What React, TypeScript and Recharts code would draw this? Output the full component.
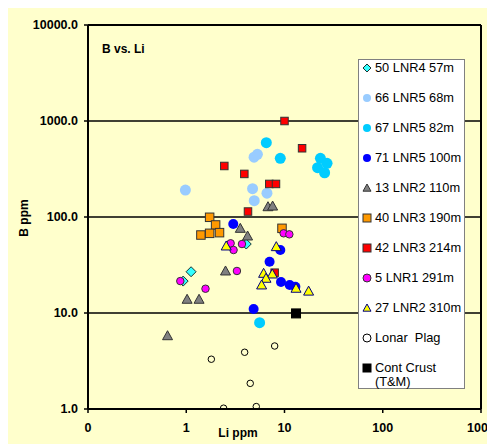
import React from 'react'
import { ScatterChart, Scatter, XAxis, YAxis, CartesianGrid, ReferenceLine, Legend } from 'recharts'

// Li (x) vs B (y), ppm
const lnr4_57m = [ { x: 1.12, y: 26.9 }, { x: 0.93, y: 21.5 }, { x: 4.08, y: 52.3 } ]
const lnr5_68m = [ { x: 0.98, y: 191 }, { x: 4.9, y: 420 }, { x: 5.3, y: 450 }, { x: 4.73, y: 197 }, { x: 4.92, y: 148 }, { x: 6.63, y: 177 } ]
const lnr5_82m = [ { x: 6.53, y: 594 }, { x: 9.06, y: 409 }, { x: 23.2, y: 409 }, { x: 27.1, y: 362 }, { x: 21.7, y: 326 }, { x: 25.6, y: 289 }, { x: 5.58, y: 7.93 } ]
const lnr5_100m = [ { x: 3.01, y: 84.6 }, { x: 9.06, y: 45.3 }, { x: 7.05, y: 34.2 }, { x: 9.21, y: 21.0 }, { x: 11.3, y: 19.6 }, { x: 12.9, y: 18.8 }, { x: 4.85, y: 11.0 } ]
const lnr2_110m = [ { x: 6.79, y: 128 }, { x: 7.57, y: 130 }, { x: 1.02, y: 13.9 }, { x: 1.35, y: 13.9 }, { x: 2.51, y: 27.4 }, { x: 3.55, y: 76.2 }, { x: 4.21, y: 63.4 }, { x: 0.645, y: 5.8 } ]
const lnr3_190m = [ { x: 1.73, y: 99.3 }, { x: 1.99, y: 82.6 }, { x: 1.41, y: 64.9 }, { x: 1.73, y: 67.6 }, { x: 2.18, y: 68.7 }, { x: 9.43, y: 76.2 } ]
const lnr3_214m = [ { x: 2.44, y: 340 }, { x: 10.0, y: 1000 }, { x: 15.1, y: 520 }, { x: 3.9, y: 281 }, { x: 7.0, y: 221 }, { x: 8.19, y: 221 }, { x: 4.25, y: 114 }, { x: 7.94, y: 26.3 } ]
const lnr1_291m = [ { x: 2.83, y: 53.2 }, { x: 3.03, y: 45.3 }, { x: 3.69, y: 52.3 }, { x: 3.28, y: 27.4 }, { x: 0.87, y: 21.5 }, { x: 1.57, y: 17.9 }, { x: 9.8, y: 67.6 }, { x: 11.2, y: 66 } ]
const lnr2_310m = [ { x: 2.55, y: 49.9 }, { x: 8.25, y: 49.1 }, { x: 6.13, y: 25.9 }, { x: 7.51, y: 25.5 }, { x: 6.48, y: 23.0 }, { x: 5.85, y: 19.6 }, { x: 13.1, y: 18.1 }, { x: 17.6, y: 16.9 } ]
const lonarPlag = [ { x: 1.8, y: 3.3 }, { x: 3.93, y: 3.9 }, { x: 7.94, y: 4.53 }, { x: 4.48, y: 1.85 }, { x: 2.4, y: 1.02 }, { x: 5.16, y: 1.06 } ]
const contCrust = [ { x: 13.1, y: 9.9 } ]

const xTicks = [0.1, 1, 10, 100, 1000]
const yTicks = [1, 10, 100, 1000, 10000]

type Kind = 'diamond' | 'circle' | 'triangle' | 'square'

const series: { name: string; data: { x: number; y: number }[]; kind: Kind; fill: string; stroke: string; size: number }[] = [
  { name: '50 LNR4 57m', data: lnr4_57m, kind: 'diamond', fill: '#33FFFF', stroke: '#1a3333', size: 10 },
  { name: '66 LNR5 68m', data: lnr5_68m, kind: 'circle', fill: '#99CCFF', stroke: 'none', size: 11 },
  { name: '67 LNR5 82m', data: lnr5_82m, kind: 'circle', fill: '#00CCFF', stroke: 'none', size: 11 },
  { name: '71 LNR5 100m', data: lnr5_100m, kind: 'circle', fill: '#0000FF', stroke: 'none', size: 10 },
  { name: '13 LNR2 110m', data: lnr2_110m, kind: 'triangle', fill: '#808080', stroke: '#333333', size: 10 },
  { name: '40 LNR3 190m', data: lnr3_190m, kind: 'square', fill: '#FF9900', stroke: '#333333', size: 8.5 },
  { name: '42 LNR3 214m', data: lnr3_214m, kind: 'square', fill: '#FF0000', stroke: '#333333', size: 7.5 },
  { name: '5 LNR1 291m', data: lnr1_291m, kind: 'circle', fill: '#FF00FF', stroke: '#333333', size: 7.5 },
  { name: '27 LNR2 310m', data: lnr2_310m, kind: 'triangle', fill: '#FFFF00', stroke: '#000080', size: 10 },
  { name: 'Lonar  Plag', data: lonarPlag, kind: 'circle', fill: 'none', stroke: '#000000', size: 6.5 },
  { name: 'Cont Crust', data: contCrust, kind: 'square', fill: '#000000', stroke: '#000000', size: 9 },
]

const font = '"Liberation Sans", Arial, sans-serif'

function Marker({ kind, cx, cy, s, fill, stroke }: { kind: Kind; cx: number; cy: number; s: number; fill: string; stroke: string }) {
  const h = s / 2
  const sw = stroke === 'none' ? 0 : 1
  if (kind === 'circle') return <circle cx={cx} cy={cy} r={h} fill={fill} stroke={stroke} strokeWidth={sw} />
  if (kind === 'square') return <rect x={cx - h} y={cy - h} width={s} height={s} fill={fill} stroke={stroke} strokeWidth={sw} />
  if (kind === 'diamond')
    return <polygon points={`${cx},${cy - h} ${cx + h},${cy} ${cx},${cy + h} ${cx - h},${cy}`} fill={fill} stroke={stroke} strokeWidth={sw} />
  return <polygon points={`${cx},${cy - h} ${cx + h},${cy + h * 0.8} ${cx - h},${cy + h * 0.8}`} fill={fill} stroke={stroke} strokeWidth={sw} />
}

function renderLegend() {
  return (
    <div style={{ position: 'relative', width: 107, height: 330, background: '#fff', border: '1px solid #808080', boxSizing: 'border-box', fontFamily: font, fontSize: 12.8, color: '#000' }}>
      {series.map((s, i) => (
        <div key={s.name} style={{ position: 'absolute', left: 0, top: 30 * i, height: 16, lineHeight: '16px', whiteSpace: 'pre' }}>
          <svg width={14} height={16} style={{ position: 'absolute', left: 1, top: 0 }}>
            <Marker kind={s.kind} cx={7} cy={8} s={8} fill={s.fill} stroke={s.stroke} />
          </svg>
          <span style={{ position: 'absolute', left: 16 }}>{s.name}</span>
        </div>
      ))}
      <div style={{ position: 'absolute', left: 16, top: 30 * 10 + 14, lineHeight: '16px' }}>(T&amp;M)</div>
    </div>
  )
}

function YTitle() {
  return (
    <text x={20.3} y={210} transform="rotate(-90, 20.3, 210)" textAnchor="middle" fontFamily={font} fontSize={12} fontWeight="bold" fill="#000">
      B ppm
    </text>
  )
}

function XTitle() {
  return (
    <text x={230} y={429} textAnchor="middle" fontFamily={font} fontSize={12} fontWeight="bold" fill="#000">
      Li ppm
    </text>
  )
}

const tickStyle = { fill: '#000', fontSize: 12.5, fontWeight: 'bold', fontFamily: font }

export default function App() {
  return (
    <div style={{ position: 'relative', width: 487, height: 436, background: '#FFFFCC' }}>
      <ScatterChart width={487} height={436} margin={{ top: 17, right: 14, left: 0, bottom: 0 }}>
        <CartesianGrid vertical={false} stroke="#000" strokeWidth={1.5} />
        <XAxis
          type="number"
          dataKey="x"
          scale="log"
          domain={[0.1, 1000]}
          ticks={xTicks}
          interval={0}
          allowDataOverflow
          tickFormatter={(v: number) => (v < 1 ? '0' : String(v))}
          tick={tickStyle}
          tickSize={4}
          tickMargin={10}
          axisLine={{ stroke: '#000', strokeWidth: 2 }}
          tickLine={{ stroke: '#000', strokeWidth: 1.5 }}
          height={35}
          label={<XTitle />}
        />
        <YAxis
          type="number"
          dataKey="y"
          scale="log"
          domain={[1, 10000]}
          ticks={yTicks}
          interval={0}
          allowDataOverflow
          tickFormatter={(v: number) => v.toFixed(1)}
          tick={tickStyle}
          tickSize={4}
          tickMargin={6}
          axisLine={{ stroke: '#000', strokeWidth: 2 }}
          tickLine={{ stroke: '#000', strokeWidth: 1.5 }}
          width={80}
          label={<YTitle />}
        />
        <ReferenceLine x={1000} stroke="#000" strokeWidth={2} />
        <ReferenceLine y={10000} stroke="#000" strokeWidth={2} />
        {series.map((s) => (
          <Scatter
            key={s.name}
            name={s.name}
            data={s.data}
            isAnimationActive={false}
            shape={(p: any) => <Marker kind={s.kind} cx={p.cx} cy={p.cy} s={s.size} fill={s.fill} stroke={s.stroke} />}
          />
        ))}
        <Legend
          layout="vertical"
          align="center"
          verticalAlign="middle"
          content={renderLegend}
          wrapperStyle={{ left: 350, top: 51, width: 107, height: 330 }}
        />
      </ScatterChart>
      <div style={{ position: 'absolute', left: 94, top: 34.7, fontFamily: font, fontSize: 12, fontWeight: 'bold', lineHeight: '12px' }}>B vs. Li</div>
    </div>
  )
}
